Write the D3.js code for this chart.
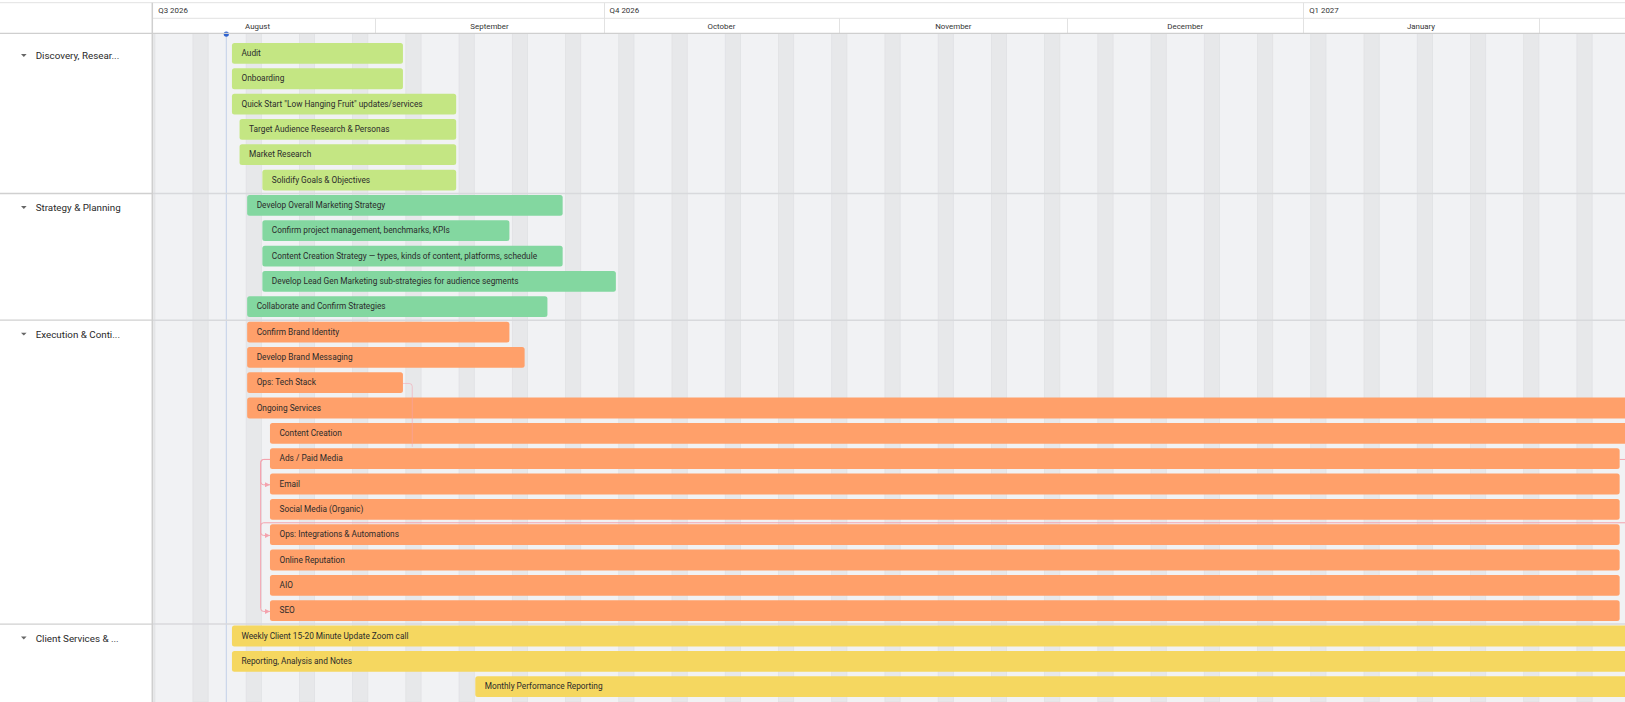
<!DOCTYPE html>
<html><head><meta charset="utf-8">
<script src="https://cdn.jsdelivr.net/npm/d3@7"></script>
<style>
html,body{margin:0;padding:0;background:#fff;overflow:hidden;}
svg{display:block;font-family:Roboto,"Noto Sans",sans-serif;}
</style></head>
<body><svg id="chart" width="1625" height="702"></svg>
<script>
// ---------------- DATA ----------------
const groupLabels = ["Discovery, Resear...", "Strategy & Planning", "Execution & Conti...", "Client Services & ..."];
const groupFirstRow = [0, 6, 11, 23];

const taskNames = [
  "Audit",
  "Onboarding",
  "Quick Start \"Low Hanging Fruit\" updates/services",
  "Target Audience Research & Personas",
  "Market Research",
  "Solidify Goals & Objectives",
  "Develop Overall Marketing Strategy",
  "Confirm project management, benchmarks, KPIs",
  "Content Creation Strategy \u2014 types, kinds of content, platforms, schedule",
  "Develop Lead Gen Marketing sub-strategies for audience segments",
  "Collaborate and Confirm Strategies",
  "Confirm Brand Identity",
  "Develop Brand Messaging",
  "Ops: Tech Stack",
  "Ongoing Services",
  "Content Creation",
  "Ads / Paid Media",
  "Email",
  "Social Media (Organic)",
  "Ops: Integrations & Automations",
  "Online Reputation",
  "AIO",
  "SEO",
  "Weekly Client 15-20 Minute Update Zoom call",
  "Reporting, Analysis and Notes",
  "Monthly Performance Reporting"
];
const taskGroup = [0,0,0,0,0,0, 1,1,1,1,1, 2,2,2,2,2,2,2,2,2,2,2,2, 3,3,3];
const taskStarts = [
  "2026-08-13T00:00","2026-08-13T00:00","2026-08-13T00:00","2026-08-14T00:00","2026-08-14T00:00","2026-08-17T00:00",
  "2026-08-15T00:00","2026-08-17T00:00","2026-08-17T00:00","2026-08-17T00:00","2026-08-15T00:00",
  "2026-08-15T00:00","2026-08-15T00:00","2026-08-15T00:00","2026-08-15T00:00","2026-08-18T00:00",
  "2026-08-18T00:00","2026-08-18T00:00","2026-08-18T00:00","2026-08-18T00:00","2026-08-18T00:00","2026-08-18T00:00","2026-08-18T00:00",
  "2026-08-13T00:00","2026-08-13T00:00","2026-09-14T00:00"
];
const taskEnds = [
  "2026-09-04T18:00","2026-09-04T18:00","2026-09-11T18:00","2026-09-11T18:00","2026-09-11T18:00","2026-09-11T18:00",
  "2026-09-25T18:00","2026-09-18T18:00","2026-09-25T18:00","2026-10-02T18:00","2026-09-23T18:00",
  "2026-09-18T18:00","2026-09-20T18:00","2026-09-04T18:00","2027-07-30T18:00","2027-07-30T18:00",
  "2027-02-11T18:00","2027-02-11T18:00","2027-02-11T18:00","2027-02-11T18:00","2027-02-11T18:00","2027-02-11T18:00","2027-02-11T18:00",
  "2027-07-30T18:00","2027-07-30T18:00","2027-07-30T18:00"
];
const quarterLabels = ["Q3 2026", "Q4 2026", "Q1 2027"];
const quarterStarts = ["2026-07-01T00:00", "2026-10-01T00:00", "2027-01-01T00:00"];
const monthLabels = ["August", "September", "October", "November", "December", "January"];
const monthStarts = ["2026-08-01T00:00","2026-09-01T00:00","2026-10-01T00:00","2026-11-01T00:00","2026-12-01T00:00","2027-01-01T00:00","2027-02-01T00:00"];
const todayDate = "2026-08-12T09:20";
// dependencies (row indices); null = task outside the visible window
const linkFrom = [16, 16, null, 13, 16];
const linkTo   = [17, 22, 19, null, null];
const linkType = ["SS", "SS", "FS", "FS", "FS"];

// ---------------- STYLE / LAYOUT ----------------
const W = 1625, H = 702;
const leftW = 152.3, headerBottom = 33.3, rowTop0 = 41.5, rowH = 25.33, barPad = 1.5, barH = 20.8;
const groupColors = ["#c4e683", "#83d7a0", "#ffa06a", "#f5d760"];
const linkColor = "#f4a3ae";

const parse = d3.timeParse("%Y-%m-%dT%H:%M");
const x = d3.scaleTime().domain([parse("2026-08-01T00:00"), parse("2027-02-01T00:00")]).range([139.7, 1538.9]);
const y = d3.scaleLinear().domain([0, 1]).range([rowTop0, rowTop0 + rowH]);

const svg = d3.select("#chart");
const defs = svg.append("defs");
defs.append("clipPath").attr("id", "body").append("rect")
  .attr("x", leftW + 0.8).attr("y", headerBottom).attr("width", W - leftW).attr("height", H - headerBottom);
defs.append("clipPath").attr("id", "head").append("rect")
  .attr("x", leftW + 0.8).attr("y", 0).attr("width", W - leftW).attr("height", headerBottom);
defs.append("marker").attr("id", "arr").attr("viewBox", "0 0 6 6").attr("refX", 6).attr("refY", 3)
  .attr("markerWidth", 5).attr("markerHeight", 5).attr("orient", "auto")
  .append("path").attr("d", "M0,0L6,3L0,6Z").attr("fill", linkColor);

svg.append("rect").attr("width", W).attr("height", H).attr("fill", "#fff");

// ---------- body ----------
const body = svg.append("g").attr("clip-path", "url(#body)");
body.append("rect").attr("x", leftW).attr("y", headerBottom).attr("width", W - leftW).attr("height", H - headerBottom).attr("fill", "#f1f2f4");

const [d0, d1] = [parse("2026-07-20T00:00"), parse("2027-03-10T00:00")];
const saturdays = d3.timeSaturday.range(d0, d1);
body.selectAll("rect.we").data(saturdays).join("rect").attr("class", "we")
  .attr("x", d => x(d)).attr("width", d => x(d3.timeDay.offset(d, 2)) - x(d))
  .attr("y", headerBottom).attr("height", H - headerBottom)
  .attr("fill", "#e7e8ea").attr("stroke", "#e0e1e4").attr("stroke-width", 0.8);

// today line
const tx = x(parse(todayDate));
body.append("line").attr("x1", tx).attr("x2", tx).attr("y1", headerBottom).attr("y2", H)
  .attr("stroke", "#c3d0e8").attr("stroke-width", 1);

// group separators
const sepRows = groupFirstRow.slice(1);
svg.selectAll("line.sep").data(sepRows).join("line").attr("class", "sep")
  .attr("x1", leftW).attr("x2", W).attr("y1", d => y(d)).attr("y2", d => y(d))
  .attr("stroke", "#d8d9dc").attr("stroke-width", 1.5);

// dependency lines (under bars)
const rowMid = i => y(i) + rowH / 2;
const xs = i => x(parse(taskStarts[i])) + 1;
const xe = i => x(parse(taskEnds[i])) - 1;
const links = body.append("g").attr("fill", "none").attr("stroke", linkColor).attr("stroke-width", 1);
const r = 3;
linkFrom.forEach((f, k) => {
  const t = linkTo[k];
  let p = d3.path();
  if (linkType[k] === "SS" && f !== null && t !== null) {
    const sx = xs(f), sy = rowMid(f), vx = sx - 9.3, ty = rowMid(t), ex = xs(t);
    p.moveTo(sx, sy); p.lineTo(vx + r, sy); p.quadraticCurveTo(vx, sy, vx, sy + r);
    p.lineTo(vx, ty - r); p.quadraticCurveTo(vx, ty, vx + r, ty); p.lineTo(ex, ty);
    links.append("path").attr("d", p.toString()).attr("marker-end", "url(#arr)");
  } else if (f === null && t !== null) {
    const ex = xs(t), vx = ex - 9.3, hy = y(t), ty = rowMid(t);
    p.moveTo(W + 5, hy); p.lineTo(vx + r, hy); p.quadraticCurveTo(vx, hy, vx, hy + r);
    p.lineTo(vx, ty - r); p.quadraticCurveTo(vx, ty, vx + r, ty); p.lineTo(ex, ty);
    links.append("path").attr("d", p.toString()).attr("marker-end", "url(#arr)");
  } else if (f !== null && t === null && f === 16) {
    p.moveTo(xe(f), rowMid(f)); p.lineTo(W + 5, rowMid(f));
    links.append("path").attr("d", p.toString());
  }
});

// bars
const idx = d3.range(taskNames.length);
const bars = body.append("g");
bars.selectAll("rect.bar").data(idx).join("rect").attr("class", "bar")
  .attr("x", i => xs(i)).attr("width", i => Math.max(0, xe(i) - xs(i)))
  .attr("y", i => y(i) + barPad).attr("height", barH)
  .attr("rx", 2.5).attr("fill", i => groupColors[taskGroup[i]]);
bars.selectAll("text.lab").data(idx).join("text").attr("class", "lab")
  .attr("x", i => xs(i) + 9.5).attr("y", i => y(i) + barPad + barH / 2 - 0.4)
  .attr("dominant-baseline", "central").attr("font-size", 8.3).attr("fill", "#2b2b2b")
  .text(i => taskNames[i]);

// Tech stack link drawn translucently over bars
linkFrom.forEach((f, k) => {
  const t = linkTo[k];
  if (f === 13 && t === null) {
    const sx = xe(f), sy = rowMid(f), vx = sx + 9.3, ey = y(16);
    const p = d3.path();
    p.moveTo(sx, sy); p.lineTo(vx - r, sy); p.quadraticCurveTo(vx, sy, vx, sy + r); p.lineTo(vx, ey);
    body.append("path").attr("d", p.toString()).attr("fill", "none").attr("stroke", linkColor)
      .attr("stroke-width", 1).attr("opacity", 0.55);
  }
});

// today dot
svg.append("circle").attr("cx", tx).attr("cy", headerBottom + 0.8).attr("r", 2.6).attr("fill", "#2f63cf");

// ---------- header ----------
const head = svg.append("g").attr("clip-path", "url(#head)");
const qRowY = 2.7, qRowB = 18.3;
head.selectAll("line.q").data(quarterStarts.slice(1)).join("line").attr("class", "q")
  .attr("x1", d => Math.round(x(parse(d))) + 0.5).attr("x2", d => Math.round(x(parse(d))) + 0.5)
  .attr("y1", qRowY).attr("y2", headerBottom).attr("stroke", "#e2e2e2");
head.selectAll("text.q").data(quarterLabels).join("text").attr("class", "q")
  .attr("x", (d, i) => Math.max(leftW + 6, x(parse(quarterStarts[i])) + 6)).attr("y", (qRowY + qRowB) / 2 + 0.2)
  .attr("dominant-baseline", "central").attr("font-size", 7.9).attr("fill", "#333").text(d => d);
head.selectAll("line.m").data(monthStarts.slice(1)).join("line").attr("class", "m")
  .attr("x1", d => Math.round(x(parse(d))) + 0.5).attr("x2", d => Math.round(x(parse(d))) + 0.5)
  .attr("y1", qRowB).attr("y2", headerBottom).attr("stroke", "#e2e2e2");
head.selectAll("text.m").data(monthLabels).join("text").attr("class", "m")
  .attr("x", (d, i) => (x(parse(monthStarts[i])) + x(parse(monthStarts[i + 1]))) / 2)
  .attr("y", (qRowB + headerBottom) / 2 + 0.2).attr("text-anchor", "middle")
  .attr("dominant-baseline", "central").attr("font-size", 7.9).attr("fill", "#333").text(d => d);
svg.append("line").attr("x1", leftW).attr("x2", W).attr("y1", qRowB).attr("y2", qRowB).attr("stroke", "#e2e2e2");
svg.append("line").attr("x1", 0).attr("x2", W).attr("y1", qRowY).attr("y2", qRowY).attr("stroke", "#e2e2e2");
svg.append("line").attr("x1", 0).attr("x2", W).attr("y1", headerBottom).attr("y2", headerBottom).attr("stroke", "#cfcfcf").attr("stroke-width", 1.3);

// ---------- left panel ----------
const left = svg.append("g");
left.selectAll("line.gs").data(sepRows).join("line").attr("class", "gs")
  .attr("x1", 0).attr("x2", leftW).attr("y1", d => y(d)).attr("y2", d => y(d))
  .attr("stroke", "#d0d0d0").attr("stroke-width", 1.3);
left.selectAll("path.tri").data(groupFirstRow).join("path").attr("class", "tri")
  .attr("d", d => { const cy = y(d) + 13.8, cx = 23.8; return `M${cx - 2.8},${cy - 1.3}L${cx + 2.8},${cy - 1.3}L${cx},${cy + 1.6}Z`; })
  .attr("fill", "#666");
left.selectAll("text.g").data(groupLabels).join("text").attr("class", "g")
  .attr("x", 35.7).attr("y", (d, i) => y(groupFirstRow[i]) + 14)
  .attr("dominant-baseline", "central").attr("font-size", 9.8).attr("fill", "#2a2a2a").text(d => d);
svg.append("line").attr("x1", leftW).attr("x2", leftW).attr("y1", qRowY).attr("y2", H)
  .attr("stroke", "#cfcfcf").attr("stroke-width", 1.5);
</script></body></html>
